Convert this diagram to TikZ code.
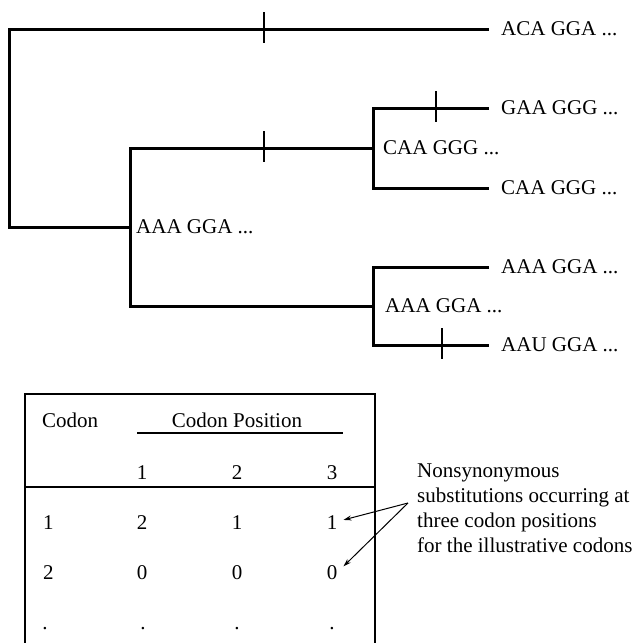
\documentclass[tikz,border=0pt]{standalone}
\usepackage{fontspec}
\setmainfont{Liberation Serif}
\usetikzlibrary{arrows.meta}

\begin{document}
\begin{tikzpicture}[x=1pt, y=-1pt, line join=miter,
		branch/.style={line width=3pt},
		tick/.style={line width=1.2pt},
		rule/.style={line width=1.3pt},
		seq/.style={font=\fontsize{21}{25}\selectfont, inner ysep=0pt, inner xsep=12pt},
		cell/.style={font=\fontsize{21}{25}\selectfont, inner sep=6pt},
		pointer/.style={line width=1pt, -{Stealth[length=8pt,width=5pt]}}]
	\useasboundingbox (0,0) rectangle (638,643);
	
	% forks of the tree
	\coordinate (r) at (9,128);
	\coordinate (n1) at (130,227);
	\coordinate (n2) at (373,148);
	\coordinate (n3) at (373,306);
	
	% sequences at the tips
	\node[seq, anchor=west] (aca) at (489,29) {ACA GGA ...};
	\node[seq, anchor=west] (gaa) at (489,108) {GAA GGG ...};
	\node[seq, anchor=west] (caa) at (489,188) {CAA GGG ...};
	\node[seq, anchor=west] (aaa) at (489,267) {AAA GGA ...};
	\node[seq, anchor=west] (aau) at (489,345) {AAU GGA ...};
	
	% sequences at the forks
	\node[seq, anchor=west, inner xsep=6pt] (lab1) at (n1) {AAA GGA ...};
	\node[seq, anchor=west, inner xsep=10pt] (lab2) at (n2) {CAA GGG ...};
	\node[seq, anchor=west] (lab3) at (n3) {AAA GGA ...};
	
	\draw[branch] (aca.west) -| (r) |- (n1);
	\draw[branch] (n2) -| (n1) |- (n3);
	\draw[branch] (gaa.west) -| (n2) |- (caa.west);
	\draw[branch] (aaa.west) -| (n3) |- (aau.west);
	
	% substitutions
	\foreach \x/\y in {264/29, 264/148, 436/108, 442/345}
		\draw[tick] (\x,\y-17) -- (\x,\y+14);
	
	% table
	\draw[rule] (25,643) |- (375,394) -- (375,643);
	\draw[rule] (25,487) -- (375,487);
	\draw[tick] (137,433) -- (343,433);
	
	\node[cell, anchor=west] (hcodon) at (36,420) {Codon};
	\node[cell] (hpos) at (237,420) {Codon Position};
	\foreach \j/\x in {1/142, 2/237, 3/332}
		\node[cell] (h\j) at (\x,473) {\j};
	
	\foreach \i/\y/\a/\b/\c in {1/523/2/1/1, 2/573/0/0/0} {
		\node[cell, anchor=west] (c\i0) at (37,\y) {\i};
		\node[cell] (c\i1) at (142,\y) {\a};
		\node[cell] (c\i2) at (237,\y) {\b};
		\node[cell] (c\i3) at (332,\y) {\c};
	}
	\foreach \j/\x in {0/45, 1/143, 2/237, 3/332}
		\node[cell, anchor=base] (d\j) at (\x,629) {.};
	
	% note with arrows
	\node[cell, inner sep=0pt, anchor=north west, align=left,
		font=\fontsize{21}{24.7}\selectfont] (note) at (417,464)
		{Nonsynonymous\\substitutions occurring at\\three codon positions\\for the illustrative codons};
	\coordinate (apex) at (408,503);
	\draw[pointer] (apex) -- (c13.15);
	\draw[pointer] (apex) -- (c23.30);
\end{tikzpicture}
\end{document}
